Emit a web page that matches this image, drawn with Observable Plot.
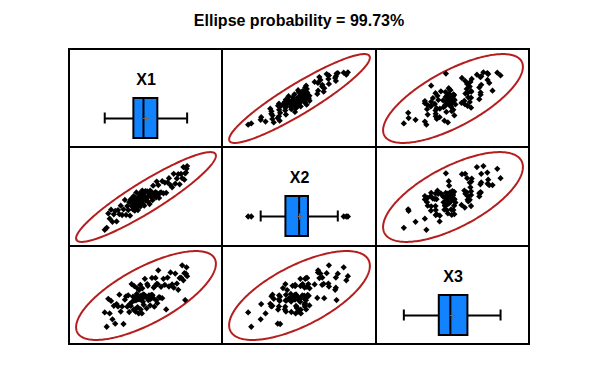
<!DOCTYPE html>
<html><head><meta charset="utf-8">
<script src="https://cdn.jsdelivr.net/npm/d3@7"></script>
<script src="https://cdn.jsdelivr.net/npm/@observablehq/plot@0.6"></script>
<style>
body{margin:0;background:#fff;font-family:"Liberation Sans",Arial,sans-serif;}
#page{position:relative;width:600px;height:375px;background:#fff;}
#title{position:absolute;left:68px;width:462px;top:12px;text-align:center;font-weight:bold;font-size:16px;line-height:18px;color:#000;}
#grid{position:absolute;left:68px;top:48px;display:grid;grid-template-columns:151px 152px 151px;grid-template-rows:96px 97px 96px;gap:2px;padding:2px;background:#000;}
.cell{background:#fff;overflow:hidden;}
.cell svg{display:block;}
</style></head>
<body><div id="page"><div id="title"></div><div id="grid"></div></div>
<script>
const title = "Ellipse probability = 99.73%";
const prob = 0.9973;
const names = ["X1", "X2", "X3"];

const X1 = [-2.12,-2.02,-1.94,-1.87,-1.80,-1.73,-1.66,-1.59,-1.52,-1.45,
-1.38,-1.31,-1.24,-1.17,-1.10,-1.04,-0.98,-0.93,-0.88,-0.84,
-0.80,-0.76,-0.72,-0.69,-0.66,-0.64,-0.62,-0.60,-0.58,-0.56,
-0.54,-0.52,-0.50,-0.48,-0.46,-0.44,-0.42,-0.40,-0.38,-0.36,
-0.34,-0.32,-0.30,-0.28,-0.26,-0.24,-0.22,-0.20,-0.19,-0.17,
-0.15,-0.12,-0.09,-0.06,-0.03,0.00,0.03,0.06,0.09,0.12,
0.15,0.18,0.21,0.24,0.27,0.30,0.33,0.36,0.39,0.42,
0.45,0.48,0.51,0.54,0.56,0.59,0.63,0.68,0.73,0.79,
0.85,0.92,0.99,1.06,1.13,1.21,1.29,1.37,1.45,1.53,
1.60,1.67,1.74,1.80,1.86,1.91,1.95,1.99,2.02,2.05];

const X2 = [-2.98,-2.80,-1.51,-1.98,-1.17,-2.26,-1.59,-1.28,-2.23,-1.21,
-1.58,-0.81,-1.65,-1.14,-0.29,-1.64,-0.85,-1.20,-0.50,-1.71,
-0.23,-0.84,-0.51,-1.15,0.04,-0.79,-0.28,-1.26,-0.48,-0.10,
-0.83,0.38,-0.53,-0.98,-0.19,-1.21,-0.03,-0.25,-0.74,0.28,
-0.47,-0.28,-0.87,0.24,-0.50,0.05,0.55,-0.63,0.01,-0.23,
0.26,-0.81,0.02,0.50,-0.35,-0.17,0.48,-0.43,0.34,0.13,
-0.66,0.54,0.00,0.44,0.35,-0.32,0.99,0.26,0.28,0.03,
0.41,-0.07,1.36,0.29,0.15,1.04,-0.11,0.34,0.39,1.39,
0.30,1.27,0.35,1.28,1.66,1.03,0.84,2.06,1.17,1.63,
2.02,1.11,2.06,1.66,2.66,1.53,2.10,2.17,2.51,2.75];

const X3 = [-1.25,-2.29,-0.26,-1.32,-0.42,-1.75,-0.77,-2.07,-0.64,-0.82,
0.04,-1.19,-0.82,-2.09,-0.33,-0.08,-0.83,-0.01,-1.22,-0.63,
-0.78,0.81,-0.46,-0.11,-1.05,-0.40,0.65,-1.04,-0.16,-1.19,
-0.38,-0.15,0.09,0.52,-0.86,-0.31,-0.26,-1.32,0.37,-0.29,
-0.14,0.75,-1.03,-0.03,-0.31,-1.32,0.50,-0.22,-0.48,0.05,
-0.70,0.03,1.19,-0.05,-0.14,-0.95,0.81,0.68,-0.36,-0.02,
-0.29,-0.74,-0.27,0.03,1.25,0.00,-0.20,0.55,-0.83,0.66,
1.25,-0.37,0.82,-0.58,0.81,1.80,-0.14,-0.18,0.61,-0.22,
1.19,0.75,-1.03,1.28,0.63,1.65,0.78,0.54,1.57,0.84,
0.39,1.24,1.28,2.17,1.08,1.60,-0.35,1.56,2.02,1.38];

const RED = "#B41E1E";
const BLUE = "#1283FF";
const FONT = "Liberation Sans, Arial, sans-serif";

document.getElementById("title").textContent = title;

const vars = [X1, X2, X3];
const rows = X1.map((_, k) => ({X1: X1[k], X2: X2[k], X3: X3[k]}));
const c = Math.sqrt(-2 * Math.log(1 - prob));
const means = vars.map(v => d3.mean(v));
const sds = vars.map(v => d3.deviation(v));
function corr(a, b) {
  const ma = d3.mean(a), mb = d3.mean(b);
  let s = 0;
  for (let k = 0; k < a.length; k++) s += (a[k] - ma) * (b[k] - mb);
  return s / (a.length - 1) / (d3.deviation(a) * d3.deviation(b));
}
const domains = vars.map((v, i) => {
  const lo = means[i] - c * sds[i], hi = means[i] + c * sds[i], pad = 0.04 * (hi - lo);
  return [lo - pad, hi + pad];
});

const diamond = {
  draw(ctx, size) {
    const a = Math.sqrt(size / 2);
    ctx.moveTo(0, -a); ctx.lineTo(a, 0); ctx.lineTo(0, a); ctx.lineTo(-a, 0); ctx.closePath();
  }
};

function boxStats(v, name) {
  const s = d3.sort(v);
  const q1 = d3.quantile(s, 0.25), med = d3.quantile(s, 0.5), q3 = d3.quantile(s, 0.75);
  const iqr = q3 - q1;
  const lo = d3.min(s.filter(d => d >= q1 - 1.5 * iqr));
  const hi = d3.max(s.filter(d => d <= q3 + 1.5 * iqr));
  return {name, q1, med, q3, lo, hi, mean: d3.mean(v),
    out: s.filter(d => d < lo || d > hi).map(d => ({name, v: d}))};
}

const colWidths = [151, 152, 151];
const rowHeights = [96, 97, 96];
const grid = document.getElementById("grid");

for (let i = 0; i < 3; i++) {
  for (let j = 0; j < 3; j++) {
    const cell = document.createElement("div");
    cell.className = "cell";
    let chart;
    if (i === j) {
      const st = boxStats(vars[i], names[i]);
      const caps = [{name: names[i], v: st.lo}, {name: names[i], v: st.hi}];
      chart = Plot.plot({
        width: colWidths[j], height: rowHeights[i],
        marginTop: 48, marginBottom: rowHeights[i] - 88, marginLeft: 0, marginRight: 0,
        x: {domain: domains[i], axis: null},
        y: {type: "band", domain: [names[i]], axis: null, padding: 0},
        style: {background: "white", fontFamily: FONT},
        marks: [
          Plot.ruleY([st], {y: "name", x1: "lo", x2: "hi", stroke: "black", strokeWidth: 2}),
          Plot.tickX(caps, {x: "v", y: "name", insetTop: 14.5, insetBottom: 14.5, stroke: "black", strokeWidth: 2}),
          Plot.barX([st], {y: "name", x1: "q1", x2: "q3", fill: BLUE, stroke: "black", strokeWidth: 2}),
          Plot.tickX([st], {x: "med", y: "name", stroke: "black", strokeWidth: 2}),
          Plot.dot([st], {x: "mean", y: "name", symbol: "plus", r: 2.2, stroke: "#6a6a6a", fill: "none", strokeWidth: 1}),
          Plot.dot(st.out, {x: "v", y: "name", symbol: diamond, r: 2.5, fill: "black", stroke: "none"}),
          Plot.text([names[i]], {text: d => d, frameAnchor: "top", dy: -25, fontSize: 16, fontWeight: "bold", fill: "black", fontFamily: FONT})
        ]
      });
    } else {
      const r = corr(vars[j], vars[i]);
      const ell = d3.range(0, 2 * Math.PI, 2 * Math.PI / 240).map(t => ({
        x: means[j] + c * sds[j] * Math.cos(t),
        y: means[i] + c * sds[i] * (r * Math.cos(t) + Math.sqrt(1 - r * r) * Math.sin(t))
      }));
      chart = Plot.plot({
        width: colWidths[j], height: rowHeights[i], margin: 0,
        x: {domain: domains[j], axis: null},
        y: {domain: domains[i], axis: null},
        style: {background: "white"},
        marks: [
          Plot.line(ell, {x: "x", y: "y", curve: "linear-closed", stroke: RED, strokeWidth: 2}),
          Plot.dot(rows, {x: names[j], y: names[i], symbol: diamond, r: 2.5, fill: "black", stroke: "none"})
        ]
      });
    }
    cell.appendChild(chart);
    grid.appendChild(cell);
  }
}
</script></body></html>
